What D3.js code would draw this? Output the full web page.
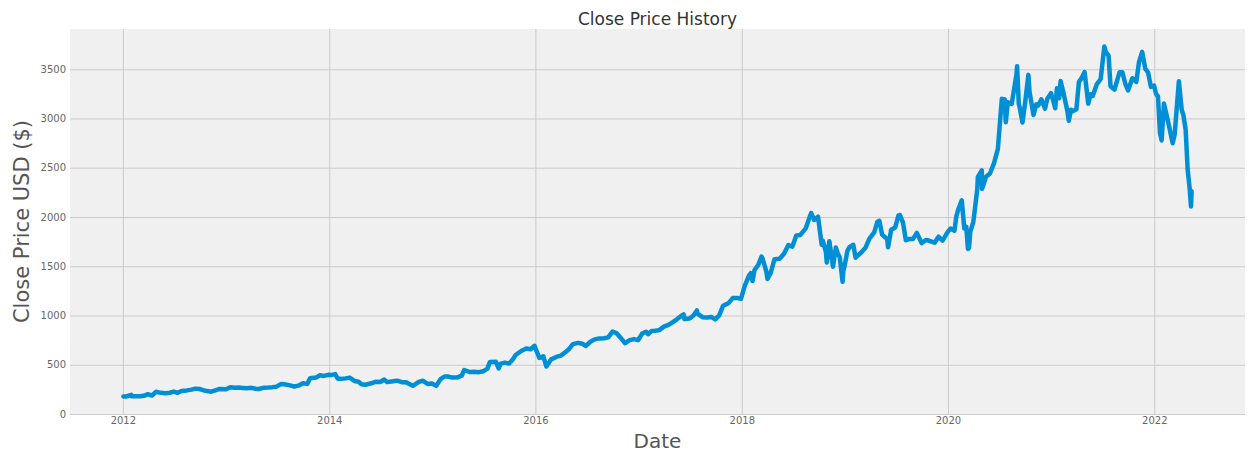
<!DOCTYPE html>
<html>
<head>
<meta charset="utf-8">
<script src="https://cdn.jsdelivr.net/npm/d3@7"></script>
<style>
    body { margin: 0; background: #ffffff; }
    #chart { width: 1252px; height: 452px; }
    text { font-family: "DejaVu Sans", sans-serif; }
</style>
</head>
<body>
<div id="chart"></div>
<script>

// Close price, [date, close]
const closeHistory2012 = [
    ["2012-01-03", 179], ["2012-01-13", 178], ["2012-01-31", 194], ["2012-02-01", 180], ["2012-02-15", 180],
    ["2012-03-01", 180], ["2012-03-15", 185], ["2012-03-30", 202], ["2012-04-13", 188], ["2012-04-27", 226],
    ["2012-05-15", 215], ["2012-05-31", 212], ["2012-06-15", 216], ["2012-06-29", 228], ["2012-07-13", 216],
    ["2012-07-27", 234], ["2012-08-15", 240], ["2012-08-31", 248], ["2012-09-14", 258], ["2012-09-28", 254],
    ["2012-10-12", 242], ["2012-10-26", 233], ["2012-11-09", 227], ["2012-11-23", 240], ["2012-12-07", 253],
    ["2012-12-31", 251]
];
const closeHistory2013 = [
    ["2013-01-15", 272], ["2013-01-31", 266], ["2013-02-15", 269], ["2013-03-01", 265], ["2013-03-15", 261],
    ["2013-04-01", 266], ["2013-04-15", 257], ["2013-04-26", 254], ["2013-05-15", 268], ["2013-05-31", 269],
    ["2013-06-14", 273], ["2013-06-28", 278], ["2013-07-15", 306], ["2013-07-26", 303], ["2013-08-15", 291],
    ["2013-08-30", 280], ["2013-09-13", 288], ["2013-09-30", 313], ["2013-10-15", 306], ["2013-10-25", 363],
    ["2013-11-15", 370], ["2013-11-29", 393], ["2013-12-13", 387], ["2013-12-31", 399]
];
const closeHistory2014 = [
    ["2014-01-10", 397], ["2014-01-22", 405], ["2014-01-31", 358], ["2014-02-14", 357], ["2014-02-28", 362],
    ["2014-03-14", 370], ["2014-03-31", 336], ["2014-04-15", 327], ["2014-04-25", 303], ["2014-05-09", 297],
    ["2014-05-30", 312], ["2014-06-13", 327], ["2014-06-30", 325], ["2014-07-15", 350], ["2014-07-25", 324],
    ["2014-08-15", 333], ["2014-08-29", 339], ["2014-09-15", 323], ["2014-09-30", 322], ["2014-10-15", 300],
    ["2014-10-24", 287], ["2014-11-14", 327], ["2014-11-28", 338], ["2014-12-15", 306], ["2014-12-31", 310]
];
const closeHistory2015 = [
    ["2015-01-15", 286], ["2015-01-30", 354], ["2015-02-13", 381], ["2015-02-27", 380], ["2015-03-13", 370],
    ["2015-03-31", 372], ["2015-04-15", 389], ["2015-04-24", 446], ["2015-05-15", 426], ["2015-05-29", 429],
    ["2015-06-15", 425], ["2015-06-30", 434], ["2015-07-15", 461], ["2015-07-24", 529], ["2015-08-14", 531],
    ["2015-08-24", 463], ["2015-08-31", 512], ["2015-09-15", 522], ["2015-09-30", 512], ["2015-10-15", 562],
    ["2015-10-23", 599], ["2015-11-13", 642], ["2015-11-30", 665], ["2015-12-15", 658], ["2015-12-29", 693],
    ["2015-12-31", 676]
];
const closeHistory2016 = [
    ["2016-01-15", 570], ["2016-01-29", 587], ["2016-02-09", 482], ["2016-02-26", 555], ["2016-03-15", 580],
    ["2016-03-31", 593], ["2016-04-15", 625], ["2016-04-29", 659], ["2016-05-13", 709], ["2016-05-31", 722],
    ["2016-06-15", 714], ["2016-06-27", 691], ["2016-07-15", 736], ["2016-07-29", 758], ["2016-08-15", 768],
    ["2016-08-31", 769], ["2016-09-15", 778], ["2016-09-30", 837], ["2016-10-14", 822], ["2016-10-28", 776],
    ["2016-11-14", 719], ["2016-11-30", 750], ["2016-12-15", 761], ["2016-12-30", 750]
];
const closeHistory2017 = [
    ["2017-01-13", 817], ["2017-01-27", 836], ["2017-02-03", 810], ["2017-02-15", 842], ["2017-02-28", 845],
    ["2017-03-15", 852], ["2017-03-31", 887], ["2017-04-14", 902], ["2017-04-28", 925], ["2017-05-15", 959],
    ["2017-05-31", 995], ["2017-06-09", 1011], ["2017-06-12", 965], ["2017-06-30", 969], ["2017-07-14", 1001],
    ["2017-07-26", 1052], ["2017-07-28", 1020], ["2017-08-15", 983], ["2017-08-31", 980], ["2017-09-15", 986],
    ["2017-09-29", 961], ["2017-10-13", 1002], ["2017-10-27", 1100], ["2017-11-15", 1126], ["2017-11-30", 1177],
    ["2017-12-15", 1179], ["2017-12-29", 1169]
];
const closeHistory2018 = [
    ["2018-01-12", 1305], ["2018-01-26", 1403], ["2018-02-02", 1430], ["2018-02-08", 1350], ["2018-02-15", 1462],
    ["2018-02-28", 1512], ["2018-03-12", 1598], ["2018-03-15", 1582], ["2018-03-29", 1447], ["2018-04-02", 1372],
    ["2018-04-13", 1431], ["2018-04-27", 1572], ["2018-05-15", 1576], ["2018-05-31", 1629], ["2018-06-15", 1715],
    ["2018-06-29", 1699], ["2018-07-13", 1813], ["2018-07-27", 1818], ["2018-08-15", 1882], ["2018-08-31", 2012],
    ["2018-09-04", 2039], ["2018-09-14", 1970], ["2018-09-28", 2003], ["2018-10-11", 1719], ["2018-10-15", 1760],
    ["2018-10-26", 1642], ["2018-10-29", 1538], ["2018-11-07", 1755], ["2018-11-20", 1495], ["2018-11-30", 1690],
    ["2018-12-07", 1629], ["2018-12-14", 1591], ["2018-12-24", 1343], ["2018-12-27", 1461], ["2018-12-31", 1501]
];
const closeHistory2019 = [
    ["2019-01-10", 1656], ["2019-01-18", 1696], ["2019-01-31", 1718], ["2019-02-08", 1588], ["2019-02-15", 1607],
    ["2019-02-28", 1639], ["2019-03-15", 1687], ["2019-03-29", 1781], ["2019-04-15", 1844], ["2019-04-26", 1950],
    ["2019-05-03", 1962], ["2019-05-13", 1822], ["2019-05-31", 1775], ["2019-06-03", 1692], ["2019-06-14", 1870],
    ["2019-06-28", 1893], ["2019-07-10", 2017], ["2019-07-15", 2020], ["2019-07-26", 1943], ["2019-08-05", 1765],
    ["2019-08-15", 1776], ["2019-08-30", 1776], ["2019-09-13", 1839], ["2019-09-30", 1735], ["2019-10-15", 1767],
    ["2019-10-25", 1761], ["2019-11-15", 1739], ["2019-11-29", 1800], ["2019-12-13", 1760], ["2019-12-31", 1847]
];
const closeHistory2020 = [
    ["2020-01-10", 1883], ["2020-01-24", 1861], ["2020-01-31", 2009], ["2020-02-07", 2079], ["2020-02-19", 2170],
    ["2020-02-28", 1883], ["2020-03-06", 1901], ["2020-03-12", 1676], ["2020-03-16", 1689], ["2020-03-20", 1846],
    ["2020-03-31", 1950], ["2020-04-14", 2283], ["2020-04-16", 2408], ["2020-04-30", 2474], ["2020-05-01", 2286],
    ["2020-05-15", 2409], ["2020-05-29", 2442], ["2020-06-12", 2545], ["2020-06-26", 2692], ["2020-07-06", 3057],
    ["2020-07-10", 3200], ["2020-07-13", 3104], ["2020-07-20", 3196], ["2020-07-24", 2961], ["2020-07-31", 3164],
    ["2020-08-14", 3148], ["2020-08-31", 3450], ["2020-09-02", 3531], ["2020-09-08", 3149], ["2020-09-11", 3116],
    ["2020-09-21", 2960], ["2020-09-30", 3148], ["2020-10-12", 3443], ["2020-10-16", 3272], ["2020-10-30", 3036],
    ["2020-11-09", 3144], ["2020-11-16", 3131], ["2020-11-27", 3195], ["2020-12-10", 3101], ["2020-12-18", 3201],
    ["2020-12-31", 3257]
];
const closeHistory2021 = [
    ["2021-01-08", 3182], ["2021-01-15", 3104], ["2021-01-21", 3306], ["2021-01-29", 3206], ["2021-02-03", 3380],
    ["2021-02-12", 3277], ["2021-02-26", 3092], ["2021-03-04", 2978], ["2021-03-12", 3089], ["2021-03-19", 3075],
    ["2021-03-31", 3094], ["2021-04-09", 3372], ["2021-04-16", 3399], ["2021-04-29", 3471], ["2021-05-12", 3151],
    ["2021-05-20", 3247], ["2021-05-28", 3230], ["2021-06-11", 3346], ["2021-06-25", 3401], ["2021-07-08", 3731],
    ["2021-07-13", 3677], ["2021-07-23", 3638], ["2021-07-30", 3327], ["2021-08-13", 3293], ["2021-08-31", 3470],
    ["2021-09-10", 3469], ["2021-09-20", 3355], ["2021-09-30", 3285], ["2021-10-15", 3409], ["2021-10-29", 3372],
    ["2021-11-08", 3576], ["2021-11-19", 3676], ["2021-11-30", 3507], ["2021-12-10", 3467], ["2021-12-20", 3321],
    ["2021-12-31", 3334]
];
const closeHistory2022 = [
    ["2022-01-07", 3251], ["2022-01-14", 3224], ["2022-01-21", 2852], ["2022-01-27", 2777], ["2022-02-04", 3152],
    ["2022-02-11", 3065], ["2022-02-23", 2912], ["2022-03-07", 2749], ["2022-03-14", 2837], ["2022-03-29", 3379],
    ["2022-04-08", 3089], ["2022-04-14", 3034], ["2022-04-22", 2887], ["2022-04-29", 2485], ["2022-05-06", 2295],
    ["2022-05-11", 2107], ["2022-05-13", 2261]
];

const yTickValues = [0, 500, 1000, 1500, 2000, 2500, 3000, 3500];
const xTickYears = [2012, 2014, 2016, 2018, 2020, 2022];

const titleText = "Close Price History";
const xLabelText = "Date";
const yLabelText = "Close Price USD ($)";

const parseDate = d3.timeParse("%Y-%m-%d");

const pointData = [].concat(
    closeHistory2012, closeHistory2013, closeHistory2014, closeHistory2015, closeHistory2016,
    closeHistory2017, closeHistory2018, closeHistory2019, closeHistory2020, closeHistory2021, closeHistory2022
).map( d => ( { date : parseDate(d[0]), close : d[1] } ) );

const svgWidth = 1252,
    svgHeight = 452;

const plot = { left: 70, right: 1245, top: 29, bottom: 414 };

const svg = d3.select("#chart").append("svg")
    .attr("width", svgWidth)
    .attr("height", svgHeight);

// matplotlib style 5% margins around the data
const xExtent = d3.extent( pointData, d => d.date );
const xPad = ( xExtent[1] - xExtent[0] ) * 0.05;
const x = d3.scaleTime()
    .domain( [ new Date( +xExtent[0] - xPad ), new Date( +xExtent[1] + xPad ) ] )
    .range( [ plot.left, plot.right ] );

const yExtent = d3.extent( pointData, d => d.close );
const yPad = ( yExtent[1] - yExtent[0] ) * 0.05;
const y = d3.scaleLinear()
    .domain( [ yExtent[0] - yPad, yExtent[1] + yPad ] )
    .range( [ plot.bottom, plot.top ] );

svg.append("rect")
    .attr("x", plot.left)
    .attr("y", plot.top)
    .attr("width", plot.right - plot.left)
    .attr("height", plot.bottom - plot.top)
    .style("fill", "#f0f0f0");

const xTicks = xTickYears.map( d => new Date(d, 0, 1) );

const xAxis = svg.append("g")
    .attr("class", "x-axis")
    .attr("transform", `translate(0,${plot.top})`)
    .call( d3.axisBottom( x ).tickValues( xTicks ).tickFormat( d3.timeFormat("%Y") )
        .tickSize( plot.bottom - plot.top ).tickPadding( 3 ) );

xAxis.select(".domain").remove();
xAxis.selectAll(".tick line").attr("stroke", "#cbcbcb").attr("stroke-width", 1);
xAxis.selectAll(".tick text")
    .attr("fill", "#666")
    .style("font-size", "10px");

const yAxis = svg.append("g")
    .attr("class", "y-axis")
    .attr("transform", `translate(${plot.right},0)`)
    .call( d3.axisLeft( y ).tickValues( yTickValues ).tickFormat( d3.format("d") )
        .tickSize( plot.right - plot.left ).tickPadding( 4 ) );

yAxis.select(".domain").remove();
yAxis.selectAll(".tick line").attr("stroke", "#cbcbcb").attr("stroke-width", 1);
yAxis.selectAll(".tick text")
    .attr("fill", "#666")
    .style("font-size", "10px");

const line = d3.line()
    .x( d => x(d.date) )
    .y( d => y(d.close) );

svg.append("path")
    .datum( pointData )
    .attr("d", line)
    .attr("fill", "none")
    .attr("stroke", "#008fd5")
    .attr("stroke-width", 4.5)
    .attr("stroke-linejoin", "round")
    .attr("stroke-linecap", "round");

svg.append("text")
    .attr("x", ( plot.left + plot.right ) / 2)
    .attr("y", 25)
    .attr("text-anchor", "middle")
    .attr("fill", "#333")
    .style("font-size", "17px")
    .text( titleText );

svg.append("text")
    .attr("x", ( plot.left + plot.right ) / 2)
    .attr("y", 448)
    .attr("text-anchor", "middle")
    .attr("fill", "#555")
    .style("font-size", "20px")
    .text( xLabelText );

svg.append("text")
    .attr("transform", `translate(29,${( plot.top + plot.bottom ) / 2}) rotate(-90)`)
    .attr("text-anchor", "middle")
    .attr("fill", "#555")
    .style("font-size", "21px")
    .text( yLabelText );

</script>
</body>
</html>
